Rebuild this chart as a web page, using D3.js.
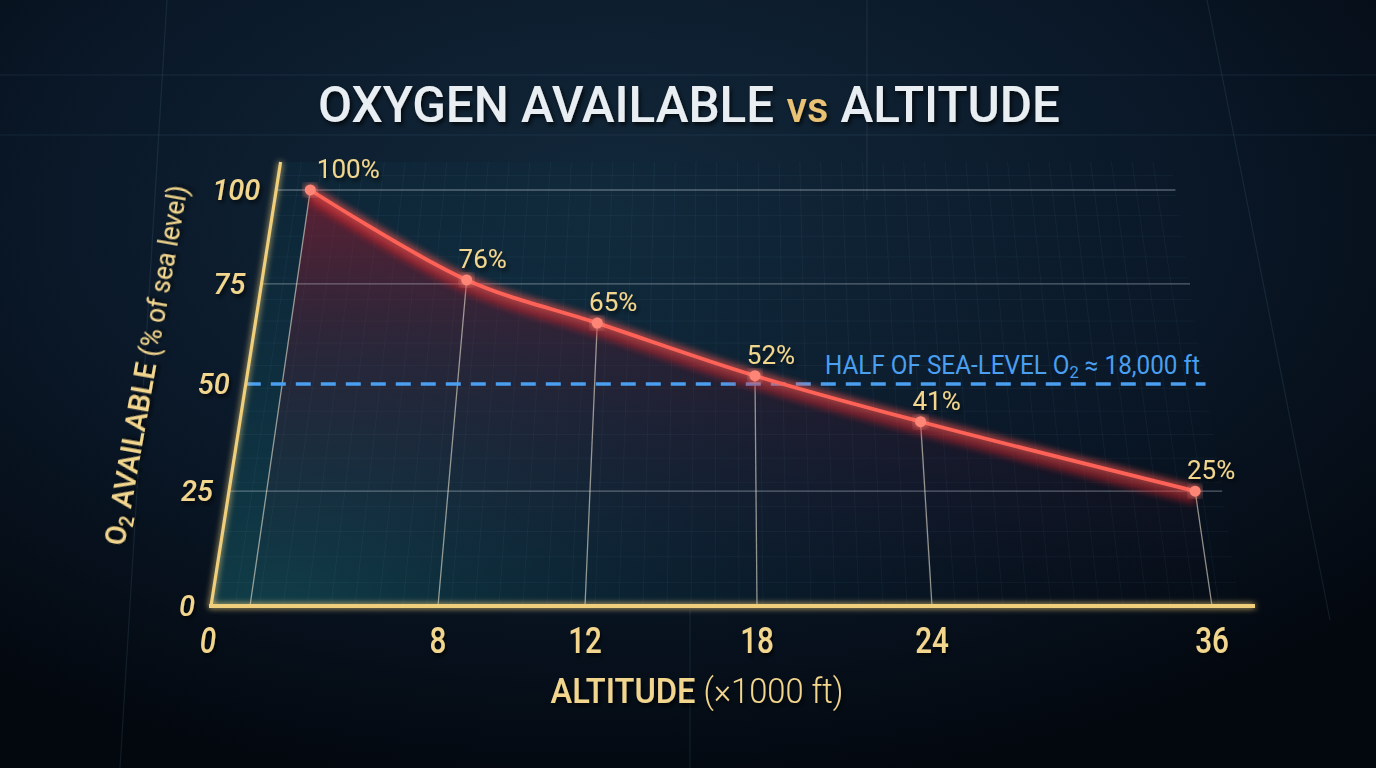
<!DOCTYPE html>
<html>
<head>
<meta charset="utf-8">
<script src="https://cdn.jsdelivr.net/npm/d3@7"></script>
<style>
  html,body{margin:0;padding:0;background:#060d17;overflow:hidden;}
  svg{display:block;}
  text{font-family:Roboto,"DejaVu Sans Condensed",sans-serif;}
</style>
</head>
<body>
<svg width="1376" height="768"></svg>
<script>
// ---------- data ----------
const ALTITUDE = [0, 8, 12, 18, 24, 36];          // x 1000 ft
const O2_PCT   = [100, 76, 65, 52, 41, 25];        // % of sea level
const Y_TICKS  = [0, 25, 50, 75, 100];
const GRID_LVL = [25, 75, 100];
const HALF_LVL = 50;

// ---------- palette ----------
const C = {
  gold:  "#f2d68e",
  axis:  "#f0cf7c",
  red:   "#ff6257",
  dot:   "#ff8677",
  blue:  "#4a9ff0",
  title: "#e9eef2",
  grid:  "rgba(205,215,225,0.38)",
  drop:  "rgba(235,228,210,0.6)"
};

const W = 1376, H = 768;
const svg = d3.select("svg");
const defs = svg.append("defs");

// ---------- perspective plane ----------
// plane tilted away from the viewer: t = 0 is ground line, t = 1 is 100 %
const CX = 728, K = 0.1443, Y0 = 606, P = -388.6;
const proj = (X, t) => { const s = 1 + K * t; return [CX + (X - CX) / s, (Y0 + P * t) / s]; };

const AXIS_X = 211, RIGHT_X = 1240, END_X = 1255, TOP_T = 1.078;
// tick stops along the ground line
const x = d3.scaleLinear().domain(ALTITUDE).range([250, 438, 585, 757, 932, 1212]);
const y = d3.scaleLinear().domain([0, 100]).range([0, 1]);

// squeeze a text horizontally so it spans `width` px (condensed look)
function fit(g, width){
  const t = g.select("text").node();
  const w = t.getComputedTextLength();
  g.select("text").attr("transform", `scale(${width / w},1)`);
}

// ---------- background ----------
const bg = defs.append("radialGradient").attr("id","bg").attr("cx","45%").attr("cy","28%").attr("r","75%");
bg.append("stop").attr("offset","0%").attr("stop-color","#12293b");
bg.append("stop").attr("offset","55%").attr("stop-color","#0a1828");
bg.append("stop").attr("offset","100%").attr("stop-color","#03080f");
svg.append("rect").attr("width",W).attr("height",H).attr("fill","url(#bg)");

const bgLines = svg.append("g").attr("stroke","rgba(120,170,200,0.12)").attr("stroke-width",1.2);
[75, 135].forEach(v => bgLines.append("line").attr("x1",0).attr("x2",W).attr("y1",v).attr("y2",v));
[[167,0,120,768],[867,0,867,200],[1207,0,1330,620],[690,610,690,768]].forEach(d =>
  bgLines.append("line").attr("x1",d[0]).attr("y1",d[1]).attr("x2",d[2]).attr("y2",d[3]));

// ---------- filters ----------
function glow(id, sd){
  const f = defs.append("filter").attr("id",id).attr("x","-20%").attr("y","-20%").attr("width","140%").attr("height","140%");
  f.append("feGaussianBlur").attr("in","SourceGraphic").attr("stdDeviation",sd).attr("result","b");
  const m = f.append("feMerge");
  m.append("feMergeNode").attr("in","b");
  m.append("feMergeNode").attr("in","SourceGraphic");
}
glow("glowGold", 3);
glow("glowRed", 4);
defs.append("filter").attr("id","blur").attr("x","-10%").attr("y","-30%").attr("width","120%").attr("height","160%")
  .append("feGaussianBlur").attr("stdDeviation",3.5);
defs.append("filter").attr("id","shadow").append("feDropShadow")
  .attr("dx",2).attr("dy",3).attr("stdDeviation",2).attr("flood-color","#000").attr("flood-opacity",0.7);

// ---------- title ----------
const tg = svg.append("g").attr("transform","translate(689,122)").attr("filter","url(#shadow)");
const title = tg.append("text").attr("text-anchor","middle").attr("font-size",50)
  .attr("font-weight",500).attr("fill",C.title);
title.append("tspan").text("OXYGEN AVAILABLE ");
title.append("tspan").attr("fill","#eac274").attr("font-size",42).text("vs");
title.append("tspan").text(" ALTITUDE");
fit(tg, 742);

// ---------- plot panel ----------
const pathOf = pts => "M" + pts.map(p => p.join(",")).join("L") + "Z";
const panelGrad = defs.append("radialGradient").attr("id","panel").attr("gradientUnits","userSpaceOnUse")
  .attr("cx",260).attr("cy",640).attr("r",780);
panelGrad.append("stop").attr("offset","0%").attr("stop-color","rgba(24,96,106,0.6)");
panelGrad.append("stop").attr("offset","50%").attr("stop-color","rgba(14,58,76,0.35)");
panelGrad.append("stop").attr("offset","100%").attr("stop-color","rgba(10,28,46,0.05)");
svg.append("path").attr("fill","url(#panel)")
  .attr("d", pathOf([proj(AXIS_X,0), proj(RIGHT_X,0), proj(RIGHT_X,TOP_T), proj(AXIS_X,TOP_T)]));

// fine grid on the plane
const minor = svg.append("g").attr("stroke","rgba(140,195,215,0.06)").attr("stroke-width",1);
d3.range(AXIS_X, RIGHT_X, 24).forEach(X => {
  const a = proj(X,0), b = proj(X,TOP_T);
  minor.append("line").attr("x1",a[0]).attr("y1",a[1]).attr("x2",b[0]).attr("y2",b[1]);
});
d3.range(0.05, TOP_T, 0.055).forEach(t => {
  const a = proj(AXIS_X,t), b = proj(RIGHT_X,t);
  minor.append("line").attr("x1",a[0]).attr("y1",a[1]).attr("x2",b[0]).attr("y2",b[1]);
});

// ---------- area under the curve ----------
const pts = ALTITUDE.map((a,i) => proj(x(a), y(O2_PCT[i])));
const line = d3.line().curve(d3.curveCatmullRom.alpha(0.5));
const areaGrad = defs.append("linearGradient").attr("id","area").attr("gradientUnits","userSpaceOnUse")
  .attr("x1",0).attr("y1",190).attr("x2",0).attr("y2",606);
areaGrad.append("stop").attr("offset","0%").attr("stop-color","rgba(160,28,48,0.55)");
areaGrad.append("stop").attr("offset","40%").attr("stop-color","rgba(100,24,48,0.3)");
areaGrad.append("stop").attr("offset","100%").attr("stop-color","rgba(40,20,40,0)");
const gb = proj(x(ALTITUDE[ALTITUDE.length-1]),0), ga = proj(x(ALTITUDE[0]),0);
svg.append("path").attr("fill","url(#area)")
  .attr("d", line(pts) + `L${gb[0]},${gb[1]}L${ga[0]},${ga[1]}Z`);

// ---------- grid lines ----------
const grid = svg.append("g");
GRID_LVL.forEach(v => {
  const a = proj(AXIS_X, y(v)), b = proj(RIGHT_X, y(v));
  grid.append("line").attr("x1",a[0]).attr("y1",a[1]).attr("x2",b[0]).attr("y2",b[1])
    .attr("stroke",C.grid).attr("stroke-width",1.3);
});

// drop lines
ALTITUDE.forEach((a,i) => {
  const top = pts[i], bot = proj(x(a),0);
  grid.append("line").attr("x1",top[0]).attr("y1",top[1]).attr("x2",bot[0]).attr("y2",bot[1])
    .attr("stroke",C.drop).attr("stroke-width",1.3);
});

// half sea level reference
{
  const a = proj(AXIS_X, y(HALF_LVL)), b = proj(RIGHT_X, y(HALF_LVL));
  svg.append("line").attr("x1",a[0]).attr("y1",a[1]).attr("x2",b[0]).attr("y2",b[1])
    .attr("stroke",C.blue).attr("stroke-width",3.5).attr("stroke-dasharray","15 10");
  const ag = svg.append("g").attr("transform",`translate(825,${a[1]-10})`);
  const ann = ag.append("text").attr("font-size",25).attr("fill",C.blue);
  ann.append("tspan").text("HALF OF SEA-LEVEL O");
  ann.append("tspan").attr("font-size",17).attr("dy",4).text("2");
  ann.append("tspan").attr("dy",-4).text(" \u2248 18,000 ft");
  fit(ag, 375);
}

// ---------- curve ----------
svg.append("path").attr("d",line(pts)).attr("transform","translate(0,9)")
  .attr("fill","none").attr("stroke","#d8262c").attr("stroke-width",7).attr("opacity",0.55).attr("filter","url(#blur)");
svg.append("path").attr("d",line(pts)).attr("fill","none").attr("stroke","#ff3a36")
  .attr("stroke-width",9).attr("opacity",0.35).attr("filter","url(#blur)");
svg.append("path").attr("d",line(pts)).attr("fill","none").attr("stroke",C.red)
  .attr("stroke-width",3.8).attr("filter","url(#glowRed)");

svg.append("g").selectAll("circle").data(pts).join("circle")
  .attr("cx",d => d[0]).attr("cy",d => d[1]).attr("r",5.5)
  .attr("fill",C.dot).attr("filter","url(#glowRed)");

svg.append("g").selectAll("text").data(pts).join("text")
  .attr("x",(d,i) => d[0] + (i === 0 ? 38 : 16)).attr("y",d => d[1] - 12)
  .attr("text-anchor","middle").attr("font-size",26).attr("fill",C.gold).attr("filter","url(#shadow)")
  .text((d,i) => O2_PCT[i] + "%");

// ---------- axes ----------
const axes = svg.append("g").attr("filter","url(#glowGold)");
{
  const a = proj(AXIS_X,0), b = proj(AXIS_X,TOP_T), c = proj(END_X,0);
  axes.append("line").attr("x1",a[0]).attr("y1",a[1]).attr("x2",b[0]).attr("y2",b[1])
    .attr("stroke",C.axis).attr("stroke-width",3.2);
  axes.append("line").attr("x1",a[0]-2).attr("y1",a[1]).attr("x2",c[0]).attr("y2",c[1])
    .attr("stroke",C.axis).attr("stroke-width",4);
}

// y ticks
svg.append("g").selectAll("text").data(Y_TICKS).join("text")
  .attr("x",v => proj(AXIS_X, y(v))[0] - 16).attr("y",v => proj(AXIS_X, y(v))[1] + 10)
  .attr("text-anchor","end").attr("font-style","italic").attr("font-weight",500)
  .attr("font-size",29).attr("fill",C.gold).attr("filter","url(#shadow)")
  .text(v => v);

// x ticks
svg.append("g").selectAll("text").data(ALTITUDE).join("text")
  .attr("x",a => a === 0 ? AXIS_X - 3 : x(a)).attr("y",653)
  .attr("text-anchor","middle").attr("font-size",37).attr("font-weight",500).attr("fill",C.gold)
  .attr("font-style",a => a === 0 ? "italic" : null).attr("filter","url(#shadow)")
  .attr("transform",a => `translate(${(a === 0 ? AXIS_X - 3 : x(a)) * 0.2},0) scale(0.8,1)`)
  .text(a => a);

// axis titles
const xg = svg.append("g").attr("transform","translate(697,703)").attr("filter","url(#shadow)");
const xt = xg.append("text").attr("text-anchor","middle").attr("font-size",35).attr("fill",C.gold);
xt.append("tspan").attr("font-weight",500).text("ALTITUDE ");
xt.append("tspan").attr("font-weight",300).text("(\u00d71000 ft)");
fit(xg, 293);

const yg = svg.append("g").attr("transform","translate(156,367) rotate(-80)").attr("filter","url(#shadow)");
const yt = yg.append("text").attr("text-anchor","middle").attr("font-size",30).attr("font-style","normal")
  .attr("fill",C.gold);
yt.append("tspan").attr("font-weight",500).text("O");
yt.append("tspan").attr("font-size",20).attr("dy",5).attr("font-weight",500).text("2");
yt.append("tspan").attr("dy",-5).attr("font-weight",500).text(" AVAILABLE ");
yt.append("tspan").attr("font-size",27).attr("font-weight",400).text("(% of sea level)");
fit(yg, 365);
</script>
</body>
</html>
